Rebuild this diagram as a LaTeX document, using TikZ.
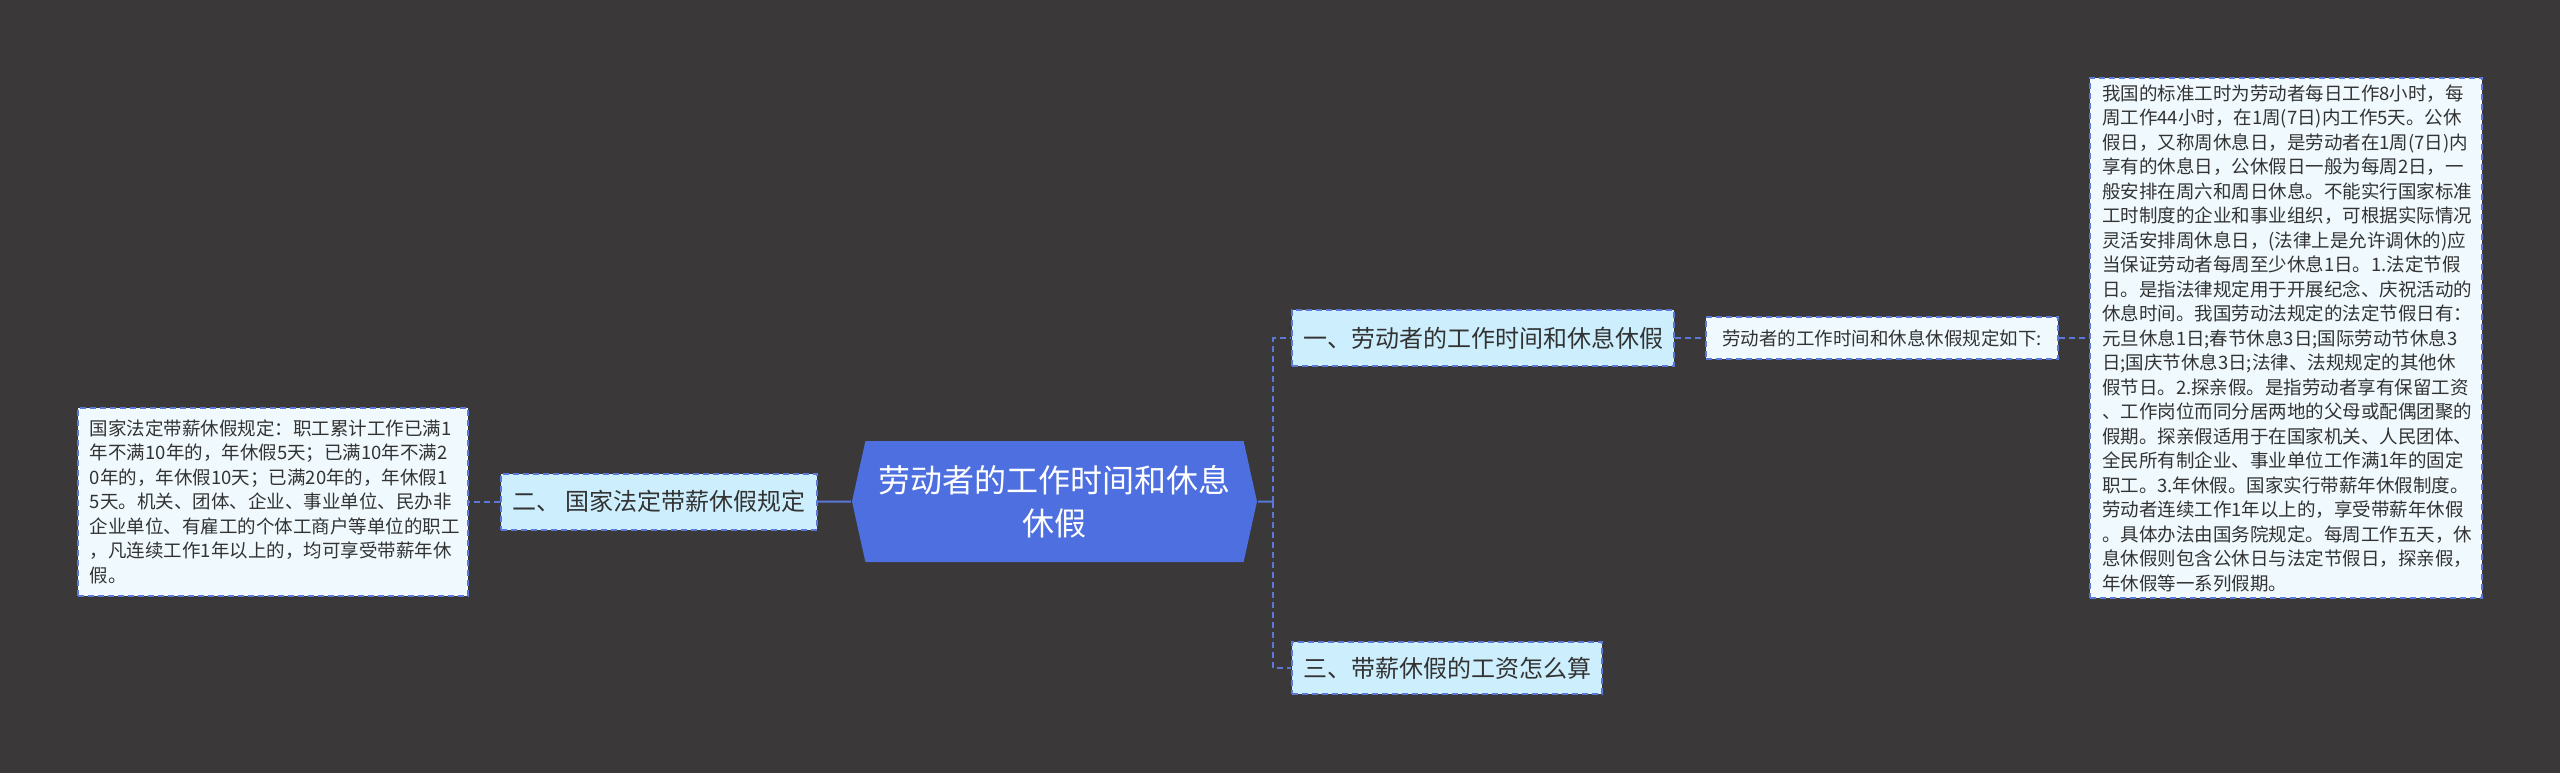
\documentclass[tikz,border=0pt]{standalone}
\usepackage{fontspec}
\setmainfont{Noto Sans CJK SC}
\usetikzlibrary{positioning,shapes.symbols}
\definecolor{bgdark}{HTML}{3A3839}
\definecolor{rootblue}{HTML}{4D6FE0}
\definecolor{edgeblue}{HTML}{5A78D8}
\definecolor{branchfill}{HTML}{CDEFFD}
\definecolor{leaffill}{HTML}{F0FAFE}
\definecolor{textgray}{HTML}{333333}

\begin{document}
\begin{tikzpicture}[line width=1pt,
    topic/.style={shape=signal,signal to=west and east,signal pointer angle=155,fill=rootblue,text=white,align=center,minimum width=202.5pt,minimum height=60.5pt,font=\fontsize{16pt}{21.5pt}\selectfont},
    branch/.style={draw=edgeblue,dash pattern=on 3pt off 2pt,fill=branchfill,text=textgray,minimum height=28pt,inner xsep=5.5pt,font=\fontsize{12pt}{14pt}\selectfont},
    leaf/.style={draw=edgeblue,dash pattern=on 3pt off 2pt,fill=leaffill,text=textgray,align=left,inner xsep=6pt,font=\fontsize{9.25pt}{12.25pt}\selectfont},
    link/.style={draw=edgeblue},
    dlink/.style={draw=edgeblue,dash pattern=on 3pt off 2pt}]
                \fill[bgdark] (0,0) rectangle (1280pt,-386.5pt);
                \useasboundingbox (0,0) rectangle (1280pt,-386.5pt);
                \node[topic] (root) at (527.25pt,-250.75pt) {劳动者的工作时间和休息\\休假};
                \node[branch,minimum width=158pt,left=16.5pt of root] (b2) {二、 国家法定带薪休假规定};
                \node[leaf,text width=183pt,minimum height=94pt,left=15.5pt of b2] (l2) {国家法定带薪休假规定：职工累计工作已满1\\年不满10年的，年休假5天；已满10年不满2\\0年的，年休假10天；已满20年的，年休假1\\5天。机关、团体、企业、事业单位、民办非\\企业单位、有雇工的个体工商户等单位的职工\\，凡连续工作1年以上的，均可享受带薪年休\\假。};
                \coordinate[right=7.5pt of root] (fork);
                \node[branch,minimum width=191pt,right=16.5pt of root,yshift=81.75pt] (b1) {一、劳动者的工作时间和休息休假};
                \node[branch,minimum width=155pt,minimum height=26pt,right=16.5pt of root,yshift=-83.25pt] (b3) {三、带薪休假的工资怎么算};
                \node[leaf,align=center,minimum width=176pt,minimum height=21pt,font=\fontsize{9.25pt}{11pt}\selectfont,right=15pt of b1] (s1) {劳动者的工作时间和休息休假规定如下:};
                \node[leaf,text width=184pt,minimum height=260pt,right=15pt of s1] (l1) {我国的标准工时为劳动者每日工作8小时，每\\周工作44小时，在1周(7日)内工作5天。公休\\假日，又称周休息日，是劳动者在1周(7日)内\\享有的休息日，公休假日一般为每周2日，一\\般安排在周六和周日休息。不能实行国家标准\\工时制度的企业和事业组织，可根据实际情况\\灵活安排周休息日，(法律上是允许调休的)应\\当保证劳动者每周至少休息1日。1.法定节假\\日。是指法律规定用于开展纪念、庆祝活动的\\休息时间。我国劳动法规定的法定节假日有：\\元旦休息1日;春节休息3日;国际劳动节休息3\\日;国庆节休息3日;法律、法规规定的其他休\\假节日。2.探亲假。是指劳动者享有保留工资\\、工作岗位而同分居两地的父母或配偶团聚的\\假期。探亲假适用于在国家机关、人民团体、\\全民所有制企业、事业单位工作满1年的固定\\职工。3.年休假。国家实行带薪年休假制度。\\劳动者连续工作1年以上的，享受带薪年休假\\。具体办法由国务院规定。每周工作五天，休\\息休假则包含公休日与法定节假日，探亲假，\\年休假等一系列假期。};
                \draw[link] (root) -- (b2);
                \draw[dlink] (b2) -- (l2);
                \draw[link] (root) -- (fork);
                \draw[dlink] (fork) |- (b1);
                \draw[dlink] (fork) |- (b3);
                \draw[dlink] (b1) -- (s1);
                \draw[dlink] (s1) -- (l1);
            \end{tikzpicture}
\end{document}
